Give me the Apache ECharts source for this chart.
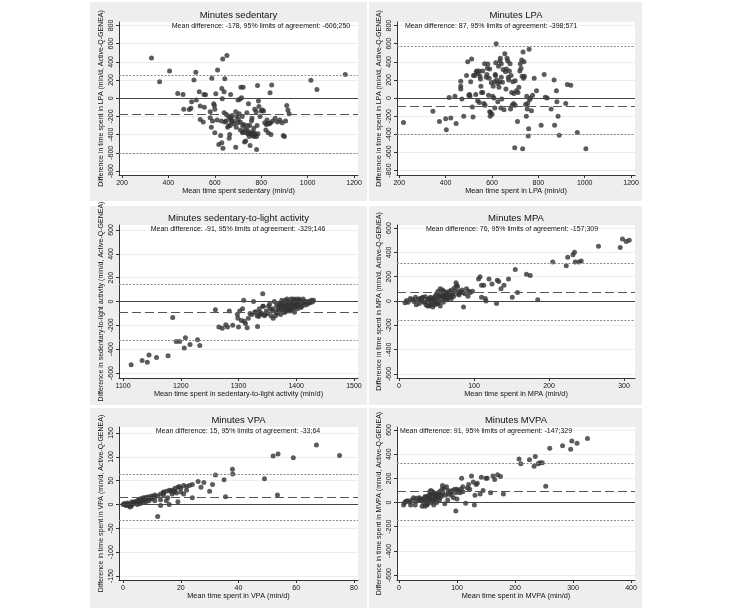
<!DOCTYPE html>
<html><head><meta charset="utf-8">
<script src="https://cdn.jsdelivr.net/npm/echarts@6/dist/echarts.min.js"></script>
<style>html,body{margin:0;padding:0;background:#fff;}#c{width:733px;height:610px;}</style>
</head><body><div id="c"></div>
<script>
// ---------- DATA ----------
const panelTitles = ["Minutes sedentary","Minutes LPA","Minutes sedentary-to-light activity","Minutes MPA","Minutes VPA","Minutes MVPA"];
const xTitles = ["Mean time spent sedentary (min/d)","Mean time spent in LPA (min/d)","Mean time spent in sedentary-to-light activity (min/d)","Mean time spent in MPA (min/d)","Mean time spent in VPA (min/d)","Mean time spent in MVPA (min/d)"];
const yTitles = ["Difference in time spent in LPA (min/d, Active-Q-GENEA)","Difference in time spent in LPA (min/d, Active-Q-GENEA)","Difference in sedentary-to-light activity (min/d, Active-Q-GENEA)","Difference in time spent in MPA (min/d, Active-Q-GENEA)","Difference in time spent in VPA (min/d, Active-Q-GENEA)","Difference in time spent in MVPA (min/d, Active-Q-GENEA)"];
const annotations = ["Mean difference: -178, 95% limits of agreement: -606;250","Mean difference: 87, 95% limits of agreement: -398;571","Mean difference: -91, 95% limits of agreement: -329;146","Mean difference: 76, 95% limits of agreement: -157;309","Mean difference: 15, 95% limits of agreement: -33;64","Mean difference: 91, 95% limits of agreement: -147;329"];
// reference lines as drawn: [mean, lower LoA, upper LoA]
const meanLines = [-178, -87, -91, 76, 15, 91];
const lowerLoA = [-606, -398, -329, -157, -33, -147];
const upperLoA = [250, 571, 146, 309, 64, 329];
const xTicks = [[200,400,600,800,1000,1200],[200,400,600,800,1000,1200],[1100,1200,1300,1400,1500],[0,100,200,300],[0,20,40,60,80],[0,100,200,300,400]];
const yTicks = [[-800,-600,-400,-200,0,200,400,600,800],[-800,-600,-400,-200,0,200,400,600,800],[-600,-400,-200,0,200,400,600],[-600,-400,-200,0,200,400,600],[-150,-100,-50,0,50,100,150],[-600,-400,-200,0,200,400,600]];
const xRanges = [[187,1217],[190,1217],[1093,1507],[-2.7,314.7],[-1.4,81.4],[-3.4,406.9]];
const yRanges = [[-844,838],[-850,840],[-642,642],[-633,625],[-158.4,162.6],[-641,625]];

const sedentaryPoints = [[327,442],[362,180],[405,300],[440,52],[463,42],[466,-120],[490,-125],[497,-110],[500,-40],[510,200],[518,285],[520,-20],[533,70],[537,-85],[537,-235],[550,-260],[553,40],[560,38],[580,-150],[580,-215],[585,-320],[587,220],[590,-250],[595,-60],[598,-80],[600,-380],[604,50],[612,310],[617,-510],[625,-410],[628,-250],[630,-490],[630,108],[632,-5],[634,430],[635,-550],[640,70],[643,215],[643,-260],[648,-250],[652,470],[655,-320],[660,-300],[662,-440],[664,-400],[666,-300],[668,40],[668,-240],[670,-215],[673,-260],[675,-190],[680,-250],[683,-280],[690,-540],[692,-320],[695,-200],[700,-230],[700,-20],[705,-170],[708,-10],[710,-260],[712,120],[715,5],[718,-200],[720,-300],[720,-370],[722,120],[725,-290],[728,-480],[730,-340],[733,-470],[735,-380],[738,-160],[740,-300],[742,-390],[745,-60],[748,-420],[750,-300],[752,-520],[755,-390],[758,-250],[760,-220],[762,-410],[765,-400],[768,-330],[770,-380],[772,-120],[775,-400],[778,-150],[780,-565],[782,-300],[784,140],[786,-390],[788,-30],[790,-90],[795,-200],[800,-140],[805,-130],[810,-140],[815,-270],[820,-350],[822,-290],[825,-240],[828,-280],[830,-380],[835,-280],[838,60],[840,-270],[842,-400],[845,145],[850,-250],[860,-220],[870,-260],[880,-240],[890,-270],[895,-410],[900,-420],[905,-250],[910,-80],[915,-130],[920,-170],[555,-100],[600,-120],[610,-240],[640,-160],[650,-180],[660,-210],[700,-270],[710,-350],[690,-150],[750,-380],[760,-370],[770,-420],[780,-420],[720,-380],[740,-350],[1014,197],[1040,96],[1162,262]];
const lpaPoints = [[218,-270],[345,-145],[373,-260],[400,-230],[403,-350],[422,-220],[445,-280],[415,5],[440,20],[465,185],[465,130],[465,100],[470,-10],[478,-200],[490,250],[495,400],[500,30],[503,40],[505,20],[508,180],[512,430],[515,-100],[518,-210],[520,250],[525,250],[530,40],[532,290],[535,300],[538,-30],[540,270],[545,-50],[548,240],[550,210],[552,130],[555,60],[560,300],[565,-60],[568,380],[570,-80],[575,230],[578,260],[580,330],[582,375],[585,30],[588,220],[590,-150],[592,-200],[594,-160],[597,170],[600,-180],[603,20],[605,130],[608,0],[610,180],[612,-110],[614,260],[616,390],[618,600],[620,200],[625,160],[628,350],[630,120],[633,180],[634,410],[636,440],[638,-110],[640,380],[642,-10],[645,175],[648,315],[652,-130],[655,490],[658,290],[662,320],[665,440],[668,410],[670,230],[672,200],[675,300],[678,380],[680,-120],[682,250],[685,60],[687,-80],[690,180],[693,-60],[695,50],[698,-550],[700,190],[705,80],[710,-260],[712,60],[716,120],[720,300],[722,380],[725,330],[728,420],[730,240],[732,-560],[734,510],[736,220],[738,400],[740,240],[745,-70],[748,-200],[750,20],[752,-120],[754,-60],[756,-420],[758,-340],[760,540],[762,-20],[766,0],[770,-140],[775,30],[782,220],[792,80],[812,-300],[825,260],[830,10],[838,0],[855,-120],[868,200],[870,-300],[878,80],[880,-40],[885,-200],[890,-410],[918,-60],[925,150],[940,140],[968,-380],[1005,-560],[560,60],[590,320],[615,250],[640,230],[660,100],[700,-80],[545,300],[625,-40]];
const sedLightPoints = [[1114,-530],[1133,-495],[1142,-510],[1145,-450],[1158,-470],[1178,-455],[1186,-135],[1192,-335],[1198,-335],[1206,-390],[1208,-305],[1216,-360],[1229,-320],[1233,-370],[1260,-70],[1266,-215],[1272,-225],[1278,-195],[1281,-215],[1284,-80],[1290,-200],[1298,-110],[1299,-140],[1300,-215],[1302,-80],[1305,-160],[1307,-60],[1309,10],[1310,-165],[1312,-185],[1315,-220],[1317,-140],[1320,-100],[1323,-110],[1326,0],[1330,-85],[1333,-210],[1335,-125],[1337,-90],[1340,-100],[1342,65],[1343,-40],[1345,-120],[1348,-80],[1350,-100],[1352,-40],[1355,-60],[1358,-80],[1360,-140],[1362,0],[1364,-120],[1365,-90],[1366,-30],[1368,-60],[1370,-50],[1371,-80],[1372,-20],[1374,-40],[1375,-70],[1376,-10],[1377,-50],[1378,-30],[1379,-90],[1380,-60],[1381,10],[1382,-20],[1383,-40],[1384,-70],[1385,0],[1386,-30],[1387,-50],[1388,-10],[1389,-80],[1390,-40],[1391,20],[1392,-20],[1393,-60],[1394,0],[1395,-30],[1396,-50],[1397,10],[1398,-10],[1399,-40],[1400,20],[1401,-20],[1402,-60],[1403,0],[1405,-30],[1406,10],[1408,-50],[1410,-40],[1412,20],[1414,-10],[1416,-30],[1418,0],[1420,-20],[1422,0],[1424,-10],[1426,10],[1428,-5],[1430,10],[1346,-110],[1356,-120],[1367,-100],[1373,-110],[1380,-90],[1385,-80],[1391,-70],[1360,-60],[1370,-20],[1375,10],[1384,20],[1395,20],[1405,20],[1338,-110],[1332,-120],[1328,-90],[1336,-60],[1342,-40],[1354,-20],[1397,-90],[1402,-40],[1409,-10],[1413,0]];
const mpaPoints = [[8,-15],[10,5],[12,-10],[15,20],[18,15],[20,-5],[22,30],[23,-30],[25,10],[27,-20],[28,20],[30,0],[32,30],[33,-10],[35,35],[36,-30],[38,10],[40,-40],[40,20],[41,0],[42,30],[43,-20],[44,10],[45,-50],[46,25],[47,-10],[48,40],[49,0],[50,-20],[50,60],[51,20],[52,80],[53,-5],[54,40],[55,100],[55,-40],[56,60],[57,20],[58,90],[59,-10],[60,50],[60,80],[61,20],[62,30],[63,70],[64,10],[65,40],[66,60],[67,80],[68,30],[70,90],[70,20],[72,60],[73,40],[74,110],[75,80],[76,150],[77,130],[78,120],[79,60],[80,50],[82,70],[84,90],[86,-50],[88,60],[90,100],[92,40],[93,80],[95,70],[98,80],[106,180],[108,200],[110,130],[110,30],[113,130],[115,20],[116,0],[120,180],[124,140],[130,-20],[131,170],[133,160],[136,100],[140,130],[146,180],[151,30],[155,260],[158,70],[170,220],[175,210],[185,10],[205,320],[223,290],[225,360],[232,380],[234,400],[235,320],[240,320],[243,330],[266,450],[295,440],[298,510],[303,490],[307,500],[45,10],[52,-20],[58,40],[65,20],[35,-10],[30,25],[38,-40],[42,-30],[48,-30],[53,40],[60,30],[62,50],[70,50],[80,80],[85,70]];
const vpaPoints = [[0,0],[0.5,2],[1,0],[1,-2],[1.5,3],[2,-3],[2,1],[2.5,-5],[3,5],[3,-2],[3.5,4],[4,6],[4,2],[4.5,5],[5,3],[5,8],[5.5,10],[6,2],[6,12],[6.5,8],[7,10],[7,14],[7.5,12],[8,15],[8,6],[8.5,14],[9,12],[9,16],[10,18],[10,12],[11,20],[11,8],[12,-25],[13,-2],[13,22],[14,26],[14,24],[15,8],[15,28],[15.5,14],[16,0],[16,30],[16.5,28],[17,30],[17.5,26],[18,28],[18.5,24],[19,6],[19,36],[19.5,38],[20,34],[21,40],[21,22],[22,30],[22,38],[23,40],[24,14],[24,42],[26,48],[27,36],[28,46],[30,28],[31,42],[32,62],[35,52],[35.5,16],[37.9,74],[38,64],[49,54],[52,102],[53.5,20],[53.7,106],[59,98],[67,125],[75,103],[5,0],[7,4],[9,8],[10,14],[12,18],[13,10],[14,20],[17,22],[20,26],[18,34],[6,6],[8,10],[11,16],[3,0]];
const mvpaPoints = [[8,-20],[10,0],[12,10],[15,15],[18,5],[20,-20],[22,20],[25,40],[28,-20],[30,10],[35,40],[37,30],[40,-30],[40,20],[42,0],[44,40],[45,-30],[46,10],[48,50],[50,20],[50,-10],[52,60],[53,90],[54,30],[55,100],[56,0],[57,70],[58,40],[60,80],[60,-20],[62,20],[63,50],[65,0],[66,70],[68,40],[70,90],[70,20],[72,60],[74,110],[75,140],[76,80],[78,120],[79,-10],[80,60],[82,130],[84,20],[85,70],[88,90],[90,60],[92,100],[94,40],[96,110],[98,-70],[98,80],[100,30],[102,100],[105,80],[107,110],[108,200],[110,90],[115,-5],[118,120],[122,110],[125,220],[128,170],[130,-20],[131,60],[133,150],[135,160],[140,70],[142,210],[145,100],[150,200],[152,200],[158,80],[162,220],[165,190],[170,230],[175,215],[180,70],[207,360],[210,320],[225,355],[233,300],[235,380],[240,320],[243,330],[247,330],[253,135],[260,450],[282,470],[296,440],[298,510],[307,490],[325,530],[45,50],[52,40],[58,20],[65,40],[35,20],[55,70],[62,60],[68,80],[85,100],[90,80],[100,110],[110,130],[120,150],[73,50],[30,35],[48,-20],[58,90]];
const allPoints = [sedentaryPoints, lpaPoints, sedLightPoints, mpaPoints, vpaPoints, mvpaPoints];

// ---------- LAYOUT ----------
const FONT = '"Liberation Sans", Arial, sans-serif';
const colLeft = [119, 397], colWidth = [239, 238];
const rowTop = [22, 225, 427], plotH = 153;
const panelX = [90, 369], panelW = [277, 273];
const panelY = [2, 206, 408], panelH = [199, 199, 200];
const annX = [261, 491, 238, 512, 238, 486];
const plain = v => String(v);

const chart = echarts.init(document.getElementById('c'), null, {renderer: 'canvas'});
const grids = [], xAxes = [], yAxes = [], series = [], graphics = [];
for (let r = 0; r < 3; r++) for (let c = 0; c < 2; c++) {
  graphics.push({type: 'rect', z: -100, shape: {x: panelX[c], y: panelY[r], width: panelW[c], height: panelH[r]}, style: {fill: '#eeeeee'}});
}
for (let i = 0; i < 6; i++) {
  const r = Math.floor(i / 2), c = i % 2;
  grids.push({left: colLeft[c], top: rowTop[r], width: colWidth[c], height: plotH, show: true, backgroundColor: '#ffffff', borderWidth: 0, containLabel: false});
  xAxes.push({
    type: 'value', gridIndex: i, min: xRanges[i][0], max: xRanges[i][1],
    name: xTitles[i], nameLocation: 'middle', nameGap: 12.5,
    nameTextStyle: {fontFamily: FONT, fontSize: 7.3, color: '#111'},
    axisLine: {show: true, onZero: false, lineStyle: {color: '#333', width: 1}},
    axisTick: {show: true, length: 3, customValues: xTicks[i], lineStyle: {color: '#333'}},
    axisLabel: {customValues: xTicks[i], formatter: plain, fontFamily: FONT, fontSize: 7, color: '#111', margin: 5},
    splitLine: {show: false}
  });
  yAxes.push({
    type: 'value', gridIndex: i, min: yRanges[i][0], max: yRanges[i][1],
    name: yTitles[i], nameLocation: 'middle', nameGap: 14, nameRotate: 90,
    nameTextStyle: {fontFamily: FONT, fontSize: 7, color: '#111'},
    axisLine: {show: true, onZero: false, lineStyle: {color: '#333', width: 1}},
    axisTick: {show: true, length: 3, customValues: yTicks[i], lineStyle: {color: '#333'}},
    axisLabel: {customValues: yTicks[i], formatter: plain, rotate: 90, fontFamily: FONT, fontSize: 7, color: '#111', margin: 4},
    splitLine: {show: true, lineStyle: {color: '#e9eef0', width: 1}}
  });
  series.push({
    type: 'scatter', xAxisIndex: i, yAxisIndex: i, data: allPoints[i],
    symbol: 'circle', symbolSize: 5, itemStyle: {color: '#333333'}, silent: true,
    markLine: {
      silent: true, symbol: ['none', 'none'], label: {show: false}, animation: false,
      data: [
        {yAxis: 0, lineStyle: {color: '#444', width: 1.1, type: 'solid'}},
        {yAxis: meanLines[i], lineStyle: {color: '#555', width: 1.2, type: [9, 4]}},
        {yAxis: lowerLoA[i], lineStyle: {color: '#8a8a8a', width: 1, type: [2, 1.5]}},
        {yAxis: upperLoA[i], lineStyle: {color: '#8a8a8a', width: 1, type: [2, 1.5]}}
      ]
    }
  });
  graphics.push({type: 'text', x: colLeft[c] + colWidth[c] / 2, y: rowTop[r] - 7, style: {text: panelTitles[i], font: '9.5px ' + FONT, fill: '#111', align: 'center', verticalAlign: 'middle', textAlign: 'center', textVerticalAlign: 'middle'}});
  graphics.push({type: 'text', z: 10, x: annX[i], y: rowTop[r] + 4.5, style: {text: annotations[i], font: '7px ' + FONT, fill: '#111', align: 'center', verticalAlign: 'middle', textAlign: 'center', textVerticalAlign: 'middle'}});
}
chart.setOption({animation: false, graphic: graphics, grid: grids, xAxis: xAxes, yAxis: yAxes, series: series});
</script></body></html>
